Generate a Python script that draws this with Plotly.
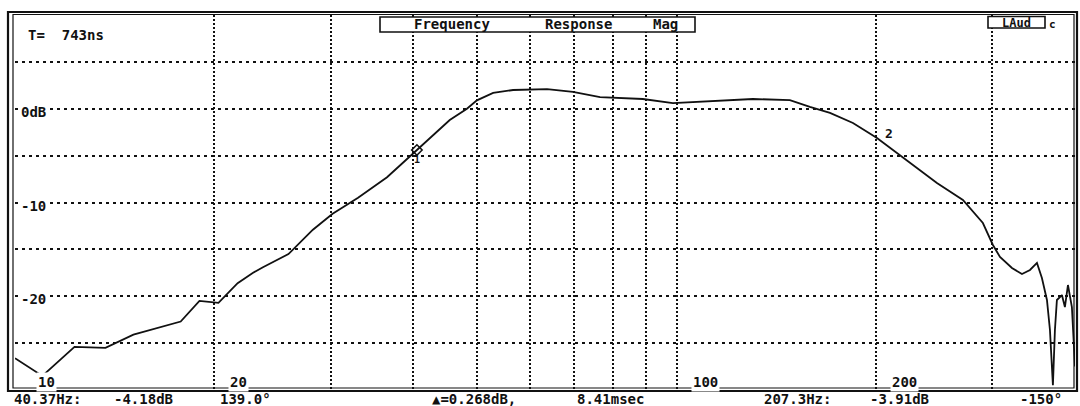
import math
import plotly.graph_objects as go

# ---- data (frequency in Hz, magnitude in dB) ----
freq_hz = [10.0, 11.0, 12.3, 13.7, 15.1, 16.4, 17.8, 19.0, 20.3, 21.7, 22.9, 23.7,
           25.9, 28.2, 30.2, 33.0, 36.5, 40.5, 45.4, 48.2, 49.9, 52.8, 56.6, 63.7,
           69.7, 76.6, 88.9, 98.7, 116.3, 130.4, 148.3, 159.0, 170.5, 184.7, 200.8,
           222.8, 247.4, 270.8, 290.3, 300.6, 308.1, 321.2, 332.6, 342.0, 350.4,
           356.5, 362.8, 366.6, 370.4, 373.0, 375.6, 382.2, 386.2, 390.3, 395.7, 400.0]
mag_db = [-26.6, -28.5, -25.4, -25.5, -24.1, -23.4, -22.7, -20.5, -20.7, -18.6, -17.5, -16.9,
          -15.5, -12.9, -11.2, -9.5, -7.3, -4.4, -1.2, 0.0, 0.9, 1.7, 2.0, 2.1,
          1.8, 1.25, 1.04, 0.61, 0.83, 1.04, 0.93, 0.19, -0.45, -1.52, -3.12,
          -5.47, -7.92, -9.73, -12.19, -14.53, -15.81, -16.99, -17.63, -17.2, -16.45,
          -18.05, -20.4, -23.6, -29.5, -23.6, -20.4, -19.87, -21.15, -18.8, -21.15, -27.5]

x_grid = [20, 30, 40, 50, 60, 70, 80, 90, 100, 200, 300]
y_grid = [-25, -20, -15, -10, -5, 0, 5]
x_labels = ["10", "20", "100", "200"]
x_label_pos = [10, 20, 100, 200]
y_labels = ["0dB", "-10", "-20"]
y_label_pos = [0, -10, -20]

marker1 = (40.5, -4.4)
marker2 = (200.8, -3.12)

title_words = ["Frequency", "Response", "Mag"]
readout = ["40.37Hz:", "-4.18dB", "139.0°", "▲=0.268dB,", "8.41msec",
           "207.3Hz:", "-3.91dB", "-150°"]

W, H = 1080, 406
L, R, T, B = 15, 5, 15, 16
PW, PH = W - L - R, H - T - B


def px(x):
    return (x - L) / PW


def py(y):
    return (H - B - y) / PH


FONT = "DejaVu Sans Mono"
INK = "#111111"


def fnt(size):
    return dict(family=FONT, size=size, color=INK, weight="bold")


fig = go.Figure()
fig.add_trace(go.Scatter(x=freq_hz, y=mag_db, mode="lines",
                         line=dict(color=INK, width=1.8), hoverinfo="skip",
                         showlegend=False))
fig.add_trace(go.Scatter(x=[marker1[0]], y=[marker1[1]], mode="markers",
                         marker=dict(symbol="diamond-open", size=8, color=INK,
                                     line=dict(color=INK, width=1.6)),
                         showlegend=False, hoverinfo="skip"))

ann = []
# y labels
for t, v in zip(y_labels, y_label_pos):
    ann.append(dict(x=px(19), xref="paper", xanchor="left", y=v, yref="y",
                    yanchor="middle", yshift=-3, text=t, showarrow=False,
                    bgcolor="white", borderpad=1, font=fnt(14)))
# x labels (log axis: annotation x given in log10 units)
for t, v in zip(x_labels, x_label_pos):
    ann.append(dict(x=math.log10(v), xref="x", xanchor="left",
                    xshift=(21 if v == 10 else 14),
                    y=py(382), yref="paper", yanchor="middle",
                    text=t, showarrow=False, bgcolor="white", borderpad=1,
                    font=fnt(14)))
# title words
for t, cx in zip(title_words, [452, 578, 665]):
    ann.append(dict(x=px(cx), xref="paper", xanchor="center", y=py(24.5), yref="paper",
                    yanchor="middle", text=t, showarrow=False, font=fnt(14)))
# T= label
ann.append(dict(x=px(26), xref="paper", xanchor="left", y=py(35), yref="paper",
                yanchor="middle", text="T=  743ns", showarrow=False, font=fnt(14)))
# LAud box
ann.append(dict(x=px(1016), xref="paper", xanchor="center", y=py(22.5), yref="paper",
                yanchor="middle", text="LAud", showarrow=False, font=fnt(12)))
ann.append(dict(x=px(1047), xref="paper", xanchor="left", y=py(25), yref="paper",
                yanchor="middle", text="c", showarrow=False, font=fnt(11)))
# marker labels
ann.append(dict(x=math.log10(marker1[0]), y=marker1[1], xref="x", yref="y", yshift=-9,
                text="1", showarrow=False, font=fnt(10)))
ann.append(dict(x=math.log10(marker2[0]), y=marker2[1], xref="x", yref="y",
                xshift=12, yshift=5, text="2", showarrow=False, font=fnt(13)))
# readout line
for t, lx in zip(readout, [12, 112, 218, 430, 575, 762, 868, 1018]):
    ann.append(dict(x=px(lx), xref="paper", xanchor="left", y=py(398.5), yref="paper",
                    yanchor="middle", text=t, showarrow=False, font=fnt(14)))

shapes = [
    dict(type="rect", xref="paper", yref="paper", x0=px(8), x1=px(1077),
         y0=py(391), y1=py(12), line=dict(color=INK, width=2.2)),
    dict(type="rect", xref="paper", yref="paper", x0=px(13), x1=px(1074),
         y0=py(388), y1=py(14.5), line=dict(color=INK, width=1.2)),
    dict(type="rect", xref="paper", yref="paper", x0=px(380), x1=px(695),
         y0=py(32), y1=py(17), line=dict(color=INK, width=1.6), fillcolor="white",
         layer="above"),
    dict(type="rect", xref="paper", yref="paper", x0=px(988), x1=px(1045),
         y0=py(28), y1=py(16.5), line=dict(color=INK, width=1.6), fillcolor="white",
         layer="above"),
]

fig.update_layout(
    width=W, height=H, autosize=False,
    margin=dict(l=L, r=R, t=T, b=B),
    paper_bgcolor="white", plot_bgcolor="white",
    showlegend=False,
    annotations=ann, shapes=shapes,
    xaxis=dict(type="log", range=[1, 2.60206], tickvals=x_grid, showticklabels=False,
               showgrid=True, gridcolor=INK, gridwidth=1.8, griddash="2px,2px",
               zeroline=False, showline=False, ticks=""),
    yaxis=dict(range=[-30, 10], tickvals=y_grid, showticklabels=False,
               showgrid=True, gridcolor=INK, gridwidth=1.6, griddash="3px,4px",
               zeroline=False, showline=False, ticks=""),
)

fig.write_html("out.html", config={"displayModeBar": False},
               post_script="document.body.style.margin='0';"
                           "document.body.style.overflow='hidden';")
